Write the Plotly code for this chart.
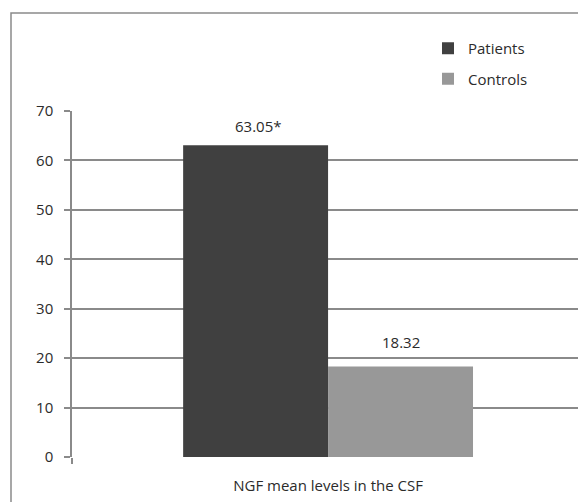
import plotly.graph_objects as go

# NGF mean levels in the CSF
category = ["NGF mean levels in the CSF"]
series_names = ["Patients", "Controls"]
patients = [63.05]
controls = [18.32]
label_suffix = ["*", ""]
y_ticks = [0, 10, 20, 30, 40, 50, 60, 70]

FONT = "Open Sans, DejaVu Sans, sans-serif"
FS = 15
TXT = "#2b2b2b"
GRID = "#8a8a8a"
W, H = 578, 502
ML, MR, MT, MB = 72, 0, 111, 45
plot_w = W - ML - MR
plot_h = H - MT - MB

colors = ["#404040", "#989898"]
values = [patients, controls]

fig = go.Figure()
for i, (name, vals) in enumerate(zip(series_names, values)):
    fig.add_trace(go.Bar(
        x=category, y=vals, name=name,
        marker=dict(color=colors[i], line=dict(width=0)),
        legendgroup=name,
    ))

# value labels above each bar, offset to the bar's slot in the group
bar_px = 145
for i, vals in enumerate(values):
    for cat, v in zip(category, vals):
        fig.add_annotation(
            x=cat, y=v, xref="x", yref="y",
            text=f"{v:.2f}{label_suffix[i]}",
            showarrow=False, yanchor="bottom", xanchor="center",
            xshift=(i - 0.5) * bar_px + (3 if label_suffix[i] else 0),
            yshift=7 if i == 0 else 12,
            font=dict(family=FONT, size=FS, color=TXT),
        )

# outer chart frame, running off the right and bottom edges
fig.add_shape(
    type="rect", xref="paper", yref="paper",
    x0=(11 - ML) / plot_w, x1=1.2,
    y0=-0.3, y1=(H - 13 - MB) / plot_h,
    line=dict(color=GRID, width=1.5), fillcolor="rgba(0,0,0,0)",
    layer="below",
)

fig.update_layout(
    width=W, height=H,
    margin=dict(l=ML, r=MR, t=MT, b=MB, pad=0),
    paper_bgcolor="white", plot_bgcolor="white",
    font=dict(family=FONT, size=FS, color=TXT),
    barmode="group", bargap=0.434, bargroupgap=0,
    showlegend=True,
    legend=dict(
        x=(428 - ML) / plot_w, y=(H - 32 - MB) / plot_h,
        xanchor="left", yanchor="top",
        tracegroupgap=8, itemwidth=30,
        font=dict(family=FONT, size=FS, color=TXT),
        bgcolor="rgba(0,0,0,0)",
    ),
    xaxis=dict(
        range=[-0.5, 0.488],
        showgrid=False, zeroline=False,
        showline=False,
        ticks="outside", tickson="boundaries", ticklen=6,
        tickcolor=GRID, tickwidth=1.5,
        ticklabelstandoff=18,
        tickfont=dict(family=FONT, size=FS, color=TXT),
    ),
    yaxis=dict(
        range=[0, 70], tickvals=y_ticks,
        showgrid=True, gridcolor=GRID, gridwidth=1.5,
        zeroline=False,
        showline=True, linecolor=GRID, linewidth=1.5,
        ticks="outside", ticklen=6, tickcolor=GRID, tickwidth=1.5,
        ticklabelstandoff=8,
        tickfont=dict(family=FONT, size=FS, color=TXT),
    ),
)

fig.write_html("out.html")
